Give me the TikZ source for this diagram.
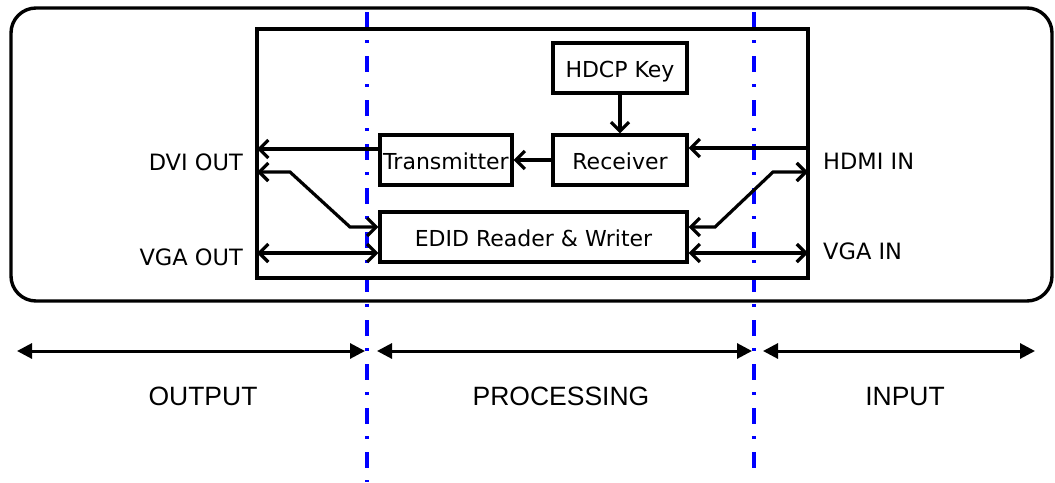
\documentclass[tikz,border=0pt]{standalone}
\usepackage{fontspec}
\setmainfont{DejaVu Sans}
\newfontfamily\labfont{Liberation Sans}
\usetikzlibrary{arrows.meta}
\begin{document}
\begin{tikzpicture}[x=1pt,y=-1pt,
  box/.style={draw, line width=3.2pt, minimum height=50pt, inner sep=0pt,
    text height=19.5pt, text depth=0pt, font=\fontsize{22}{26}\selectfont},
  port/.style={inner sep=0pt, font=\fontsize{22.5}{26}\selectfont},
  conn/.style={line width=3.2pt, -{Straight Barb[length=9pt,width=18pt]}},
  bconn/.style={line width=3.2pt, {Straight Barb[length=9pt,width=18pt]}-{Straight Barb[length=9pt,width=18pt]}},
  divider/.style={blue, line width=3.4pt, dash pattern=on 16pt off 12pt on 3pt off 13pt},
  span/.style={line width=3pt, {Triangle[length=15pt,width=15pt]}-{Triangle[length=15pt,width=15pt]}},
  zone/.style={inner sep=0pt, font=\labfont\fontsize{26.5}{30}\selectfont}
]
\useasboundingbox (0,0) rectangle (1055,482);
% dividers
\draw[divider] (367,12) -- (367,482);
\draw[divider] (754,12) -- (754,470);
% outer casing
\draw[line width=3.4pt, rounded corners=25pt] (11,8) rectangle (1052,301);
% board
\node[draw, line width=3.4pt, minimum width=551pt, minimum height=249pt, inner sep=0pt] (board) at (532.5,153.5) {};
% blocks
\node[box, minimum width=134pt] (hdcp) at (620,68) {HDCP Key};
\node[box, minimum width=134pt] (rx) at (620,160) {Receiver};
\node[box, minimum width=132pt] (tx) at (446,160) {Transmitter};
\node[box, minimum width=307pt] (edid) at (533.5,237) {EDID Reader \& Writer};
% port coordinates on board edge
\coordinate (dviA) at (257,149);
\coordinate (dviB) at (257,172);
\coordinate (vgaO) at (257,253);
\coordinate (hdmiA) at (808,148);
\coordinate (hdmiB) at (808,172);
\coordinate (vgaI) at (808,253);
\coordinate (bendL1) at (290,172);
\coordinate (bendL2) at (350,227);
\coordinate (bendR1) at (773,172);
\coordinate (bendR2) at (715,227);
% connectors
\draw[conn] (hdcp.south) -- (rx.north);
\draw[conn] (hdmiA) -- (hdmiA -| rx.east);
\draw[conn] (rx.west) -- (tx.east);
\draw[conn] (tx.west |- dviA) -- (dviA);
\draw[bconn] (dviB) -- (bendL1) -- (bendL2) -- (bendL2 -| edid.west);
\draw[bconn] (vgaO) -- (vgaO -| edid.west);
\draw[bconn] (bendR2 -| edid.east) -- (bendR2) -- (bendR1) -- (hdmiB);
\draw[bconn] (vgaI -| edid.east) -- (vgaI);
% port labels
\node[port, anchor=base east] (dvilab) at (243,170) {DVI OUT};
\node[port, anchor=base east] (vgaolab) at (243,265) {VGA OUT};
\node[port, anchor=base west] (hdmilab) at (823,169) {HDMI IN};
\node[port, anchor=base west] (vgailab) at (823,259) {VGA IN};
% zones
\coordinate (z0) at (17,351);
\coordinate (z1) at (365,351);
\coordinate (z2) at (377,351);
\coordinate (z3) at (752,351);
\coordinate (z4) at (763,351);
\coordinate (z5) at (1035,351);
\draw[span] (z0) -- (z1);
\draw[span] (z2) -- (z3);
\draw[span] (z4) -- (z5);
\node[zone, anchor=base] (out) at (203,405) {OUTPUT};
\node[zone, anchor=base] (proc) at (561,405) {PROCESSING};
\node[zone, anchor=base] (inp) at (905,405) {INPUT};
\end{tikzpicture}
\end{document}
